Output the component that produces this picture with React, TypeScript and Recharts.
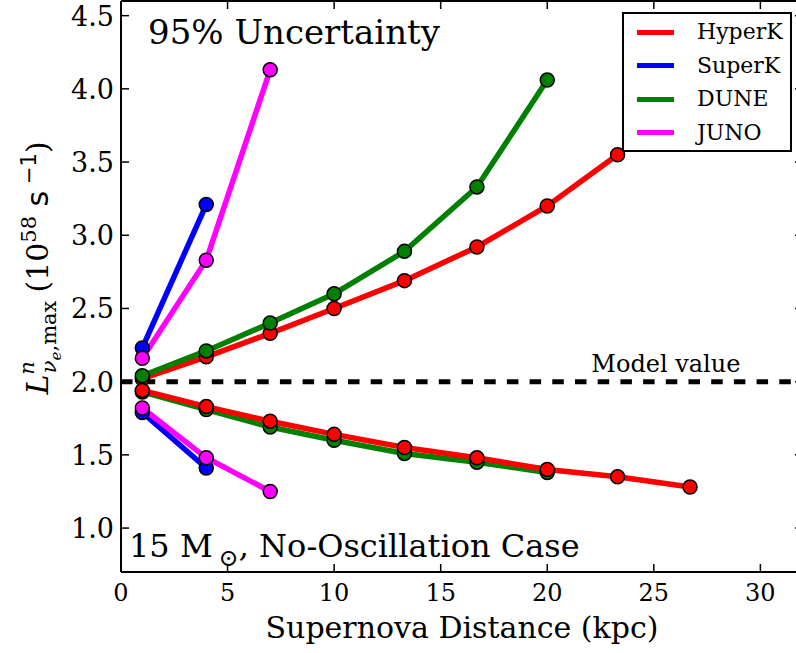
import { LineChart, Line, XAxis, YAxis, ReferenceLine, Legend } from 'recharts'

// distances (kpc) and 95% bounds on peak luminosity (1e58 /s)
const HK_X = [1, 4, 7, 10, 13.3, 16.7, 20, 23.3, 26.7]
const HK_UP = [2.02, 2.17, 2.33, 2.5, 2.69, 2.92, 3.2, 3.55]
const HK_LOW = [1.94, 1.83, 1.73, 1.64, 1.55, 1.48, 1.4, 1.35, 1.28]

const SK_X = [1, 4]
const SK_UP = [2.23, 3.21]
const SK_LOW = [1.79, 1.41]

const DUNE_X = [1, 4, 7, 10, 13.3, 16.7, 20]
const DUNE_UP = [2.04, 2.21, 2.4, 2.6, 2.89, 3.33, 4.06]
const DUNE_LOW = [1.93, 1.81, 1.69, 1.6, 1.51, 1.45, 1.38]

const JUNO_X = [1, 4, 7]
const JUNO_UP = [2.16, 2.83, 4.13]
const JUNO_LOW = [1.82, 1.48, 1.25]

const X_TICKS = [0, 5, 10, 15, 20, 25, 30]
const Y_TICKS = [1.0, 1.5, 2.0, 2.5, 3.0, 3.5, 4.0, 4.5]
const MODEL_VALUE = 2.0

const DETECTORS = [
  { name: 'HyperK', color: '#ff0000' },
  { name: 'SuperK', color: '#0000ff' },
  { name: 'DUNE', color: '#008000' },
  { name: 'JUNO', color: '#ff00ff' }
]

const SERIF = '"DejaVu Serif", serif'
const W = 810
const H = 653

const pts = (xs: number[], ys: number[]) => ys.map((y, i) => ({ x: xs[i], y }))

const series = [
  { key: 'hk-up', data: pts(HK_X, HK_UP), color: '#ff0000' },
  { key: 'sk-up', data: pts(SK_X, SK_UP), color: '#0000ff' },
  { key: 'sk-low', data: pts(SK_X, SK_LOW), color: '#0000ff' },
  { key: 'dune-up', data: pts(DUNE_X, DUNE_UP), color: '#008000' },
  { key: 'dune-low', data: pts(DUNE_X, DUNE_LOW), color: '#008000' },
  { key: 'hk-low', data: pts(HK_X, HK_LOW), color: '#ff0000' },
  { key: 'juno-up', data: pts(JUNO_X, JUNO_UP), color: '#ff00ff' },
  { key: 'juno-low', data: pts(JUNO_X, JUNO_LOW), color: '#ff00ff' }
]

const BottomTick = ({ x, y, payload }: any) => (
  <g>
    <line x1={x} x2={x} y1={y} y2={y - 8} stroke="#000" strokeWidth={1.5} />
    <text x={x} y={y + 29} textAnchor="middle" fontSize={24} fontFamily={SERIF} fill="#000">
      {payload.value}
    </text>
  </g>
)

const TopTick = ({ x, y }: any) => (
  <line x1={x} x2={x} y1={y} y2={y + 8} stroke="#000" strokeWidth={1.5} />
)

const LeftTick = ({ x, y, payload }: any) => (
  <g>
    <line x1={x} x2={x + 8} y1={y} y2={y} stroke="#000" strokeWidth={1.5} />
    <text x={x - 7} y={y + 10} textAnchor="end" fontSize={27} fontFamily={SERIF} fill="#000">
      {Number(payload.value).toFixed(1)}
    </text>
  </g>
)

const RightTick = ({ x, y }: any) => (
  <line x1={x} x2={x - 8} y1={y} y2={y} stroke="#000" strokeWidth={1.5} />
)

const LegendBox = () => (
  <div
    style={{
      position: 'relative',
      width: 166,
      height: 136,
      border: '2px solid #000',
      background: '#fff',
      fontFamily: SERIF,
      fontSize: 22,
      boxSizing: 'content-box'
    }}
  >
    {DETECTORS.map((d, i) => (
      <div key={d.name} style={{ position: 'absolute', left: 0, top: 3 + i * 33.5, height: 30, display: 'flex', alignItems: 'center' }}>
        <span style={{ display: 'inline-block', width: 37, height: 5, background: d.color, marginLeft: 13 }} />
        <span style={{ marginLeft: 23, lineHeight: '30px' }}>{d.name}</span>
      </div>
    ))}
  </div>
)

const ModelLabel = ({ viewBox }: any) => (
  <text x={viewBox.x + viewBox.width * 0.799} y={viewBox.y - 10} textAnchor="middle" fontSize={24} fontFamily={SERIF} fill="#000">
    Model value
  </text>
)

export default function App() {
  return (
    <div style={{ position: 'absolute', left: 0, top: 0, width: 796, height: 653, overflow: 'hidden', background: '#fff' }}>
      <LineChart width={W} height={H} margin={{ top: 0, right: 0, bottom: 0, left: 0 }}>
        <XAxis
          xAxisId="bottom"
          type="number"
          dataKey="x"
          domain={[0, 32]}
          ticks={X_TICKS}
          height={81}
          tickSize={0}
          tickMargin={0}
          tick={<BottomTick />}
          axisLine={{ stroke: '#000', strokeWidth: 2 }}
          allowDataOverflow
        />
        <XAxis
          xAxisId="top"
          orientation="top"
          type="number"
          dataKey="x"
          domain={[0, 32]}
          ticks={X_TICKS}
          height={1}
          tickSize={0}
          tickMargin={0}
          tick={<TopTick />}
          axisLine={{ stroke: '#000', strokeWidth: 2 }}
          allowDataOverflow
        />
        <YAxis
          yAxisId="left"
          type="number"
          domain={[0.7, 4.6]}
          ticks={Y_TICKS}
          width={121}
          tickSize={0}
          tickMargin={0}
          tick={<LeftTick />}
          axisLine={{ stroke: '#000', strokeWidth: 2 }}
          allowDataOverflow
        />
        <YAxis
          yAxisId="right"
          orientation="right"
          type="number"
          domain={[0.7, 4.6]}
          ticks={Y_TICKS}
          width={7}
          tickSize={0}
          tickMargin={0}
          tick={<RightTick />}
          axisLine={{ stroke: '#000', strokeWidth: 2 }}
          allowDataOverflow
        />
        <ReferenceLine
          xAxisId="bottom"
          yAxisId="left"
          y={MODEL_VALUE}
          stroke="#000"
          strokeWidth={5}
          strokeDasharray="11.5 11.2"
          label={<ModelLabel />}
        />
        {series.map((s) => (
          <Line
            key={s.key}
            xAxisId="bottom"
            yAxisId="left"
            data={s.data}
            dataKey="y"
            type="linear"
            stroke={s.color}
            strokeWidth={5.5}
            dot={{ r: 7, fill: s.color, stroke: '#000', strokeWidth: 1.5 }}
            activeDot={false}
            legendType="none"
            isAnimationActive={false}
          />
        ))}
        <Legend
          layout="horizontal"
          verticalAlign="middle"
          align="center"
          content={<LegendBox />}
          wrapperStyle={{ position: 'absolute', left: 622, top: 12, width: 170, height: 140 }}
        />
      </LineChart>
      <svg width={796} height={653} style={{ position: 'absolute', left: 0, top: 0, pointerEvents: 'none' }}>
        <text x={148} y={44} fontSize={34} fontFamily={SERIF} fill="#000">95% Uncertainty</text>
        <text x={129} y={557} fontSize={32} fontFamily={SERIF} fill="#000">
          15 M
          <tspan dx={6} dy={9} fontSize={24}>⊙</tspan>
          <tspan dy={-9}>, No-Oscillation Case</tspan>
        </text>
        <text x={462} y={638} fontSize={30} fontFamily={SERIF} textAnchor="middle" fill="#000">
          Supernova Distance (kpc)
        </text>
        <g transform="translate(48, 268) rotate(-90)">
          <text x={0} y={0} fontSize={30} fontFamily={SERIF} textAnchor="middle" fill="#000">
            <tspan fontStyle="italic">L</tspan>
            <tspan dy={-14} fontSize={21} fontStyle="italic">n</tspan>
            <tspan dx={-12} dy={22} fontSize={21} fontStyle="italic">ν</tspan>
            <tspan dy={5} fontSize={15} fontStyle="italic">e</tspan>
            <tspan dy={-5} fontSize={21}>,max</tspan>
            <tspan dx={8} dy={-8}>(10</tspan>
            <tspan dy={-12} fontSize={21}>58</tspan>
            <tspan dy={12} fontFamily='"DejaVu Sans", sans-serif'> s</tspan>
            <tspan dy={-12} fontSize={21} fontFamily='"DejaVu Sans", sans-serif'> −1</tspan>
            <tspan dy={12}>)</tspan>
          </text>
        </g>
      </svg>
    </div>
  )
}
